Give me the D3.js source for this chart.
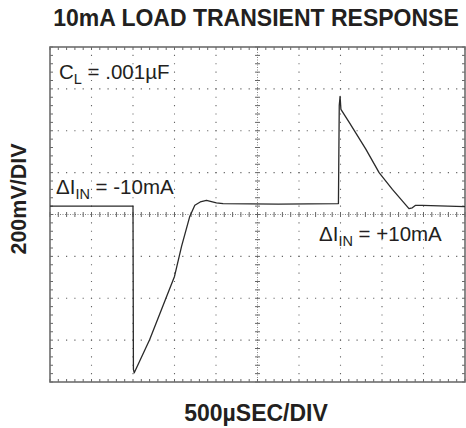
<!DOCTYPE html>
<html><head><meta charset="utf-8">
<script src="https://cdn.jsdelivr.net/npm/d3@7"></script>
<style>html,body{margin:0;padding:0;background:#fff;}svg{display:block;}</style>
</head><body>
<svg id="c" width="466" height="428"></svg>
<script>
const timeDiv = [0, 1.99, 2.00, 2.01, 2.03, 2.40, 2.81, 3.00, 3.17, 3.37, 3.49, 3.62, 3.77, 4.01, 4.17, 5.50, 6.95,
                 6.97, 6.99, 7.01, 7.21, 7.61, 7.93, 8.25, 8.65, 8.73, 8.81, 8.97, 10];
const voltDiv = [0.20, 0.20, 0.20, -3.70, -3.78, -2.99, -1.96, -1.48, -0.76, -0.04, 0.22, 0.30, 0.34, 0.28, 0.26, 0.25, 0.26,
                 2.60, 2.82, 2.51, 2.20, 1.56, 1.00, 0.60, 0.14, 0.16, 0.22, 0.22, 0.19];
const xDivs = d3.range(0, 11);   // 10 horizontal divisions
const yDivs = d3.range(-4, 5);   // 8 vertical divisions
const title = "10mA LOAD TRANSIENT RESPONSE";
const xLabel = "500µSEC/DIV";
const yLabel = "200mV/DIV";

const svg = d3.select("#c");
const x = d3.scaleLinear().domain([0, 10]).range([50, 465]);
const y = d3.scaleLinear().domain([-4, 4]).range([382, 47]);
const minorX = d3.range(0, 50.5, 1).map(i => i / 5);
const minorY = d3.range(-20, 20.5, 1).map(i => i / 5);
const ink = "#231f20";

const g = svg.append("g");
const pitchX = (x(1) - x(0)) / 5, pitchY = (y(0) - y(1)) / 5;

// dotted grid lines (not centre)
xDivs.filter(d => d > 0 && d < 10 && d !== 5).forEach(d => {
  g.append("line").attr("x1", x(d)).attr("x2", x(d)).attr("y1", y(4)).attr("y2", y(-4))
    .attr("stroke", "#666").attr("stroke-width", 1.1)
    .attr("stroke-dasharray", `1.2,${pitchY - 1.2}`).attr("stroke-dashoffset", 0.6);
});
yDivs.filter(d => d > -4 && d < 4 && d !== 0).forEach(d => {
  g.append("line").attr("y1", y(d)).attr("y2", y(d)).attr("x1", x(0)).attr("x2", x(10))
    .attr("stroke", "#666").attr("stroke-width", 1.1)
    .attr("stroke-dasharray", `1.2,${pitchX - 1.2}`).attr("stroke-dashoffset", 0.6);
});
// centre lines: dense dots + cross ticks
g.append("line").attr("x1", x(5)).attr("x2", x(5)).attr("y1", y(4)).attr("y2", y(-4))
  .attr("stroke", "#888").attr("stroke-width", 1).attr("stroke-dasharray", "1,1.5");
g.append("line").attr("y1", y(0)).attr("y2", y(0)).attr("x1", x(0)).attr("x2", x(10))
  .attr("stroke", "#888").attr("stroke-width", 1).attr("stroke-dasharray", "1,1.5");
minorY.forEach(d => {
  g.append("line").attr("x1", x(5) - 2.5).attr("x2", x(5) + 2.5).attr("y1", y(d)).attr("y2", y(d))
    .attr("stroke", "#666").attr("stroke-width", 1);
});
minorX.forEach(d => {
  g.append("line").attr("y1", y(0) - 2.5).attr("y2", y(0) + 2.5).attr("x1", x(d)).attr("x2", x(d))
    .attr("stroke", "#666").attr("stroke-width", 1);
});
// border minor ticks
minorX.forEach(d => {
  g.append("line").attr("x1", x(d)).attr("x2", x(d)).attr("y1", y(4)).attr("y2", y(4) + 3).attr("stroke", "#666");
  g.append("line").attr("x1", x(d)).attr("x2", x(d)).attr("y1", y(-4)).attr("y2", y(-4) - 3).attr("stroke", "#666");
});
minorY.forEach(d => {
  g.append("line").attr("y1", y(d)).attr("y2", y(d)).attr("x1", x(0)).attr("x2", x(0) + 3).attr("stroke", "#666");
  g.append("line").attr("y1", y(d)).attr("y2", y(d)).attr("x1", x(10)).attr("x2", x(10) - 3).attr("stroke", "#666");
});
// frame
g.append("rect").attr("x", x(0)).attr("y", y(4)).attr("width", x(10) - x(0)).attr("height", y(-4) - y(4))
  .attr("fill", "none").attr("stroke", "#6d6d6d").attr("stroke-width", 1.6);

// trace
const pts = timeDiv.map((t, i) => [t, voltDiv[i]]);
svg.append("path").datum(pts)
  .attr("d", d3.line().x(d => x(d[0])).y(d => y(d[1])))
  .attr("fill", "none").attr("stroke", "#2a2a2a").attr("stroke-width", 1.3).attr("stroke-linejoin", "round");

// labels
const font = "'Liberation Sans', Arial, Helvetica, sans-serif";
svg.append("text").attr("x", 256).attr("y", 26).attr("text-anchor", "middle")
  .attr("font-family", font).attr("font-weight", "bold").attr("font-size", 23).attr("fill", ink).text(title);
svg.append("text").attr("x", 256).attr("y", 421).attr("text-anchor", "middle")
  .attr("font-family", font).attr("font-weight", "bold").attr("font-size", 23).attr("fill", ink).text(xLabel);
svg.append("text").attr("transform", "translate(26,199) rotate(-90)").attr("text-anchor", "middle")
  .attr("font-family", font).attr("font-weight", "bold").attr("font-size", 21.5).attr("fill", ink).text(yLabel);

function subLabel(px, py, main, sub, rest) {
  const t = svg.append("text").attr("x", px).attr("y", py)
    .attr("font-family", font).attr("font-size", 20.5).attr("fill", ink);
  t.append("tspan").text(main);
  t.append("tspan").attr("dy", 5).attr("font-size", 14.5).text(sub);
  t.append("tspan").attr("dy", -5).text(rest);
}
subLabel(59, 79, "C", "L", " = .001µF");
subLabel(56, 194, "ΔI", "IN", " = -10mA");
subLabel(319, 241, "ΔI", "IN", " = +10mA");
</script>
</body></html>
